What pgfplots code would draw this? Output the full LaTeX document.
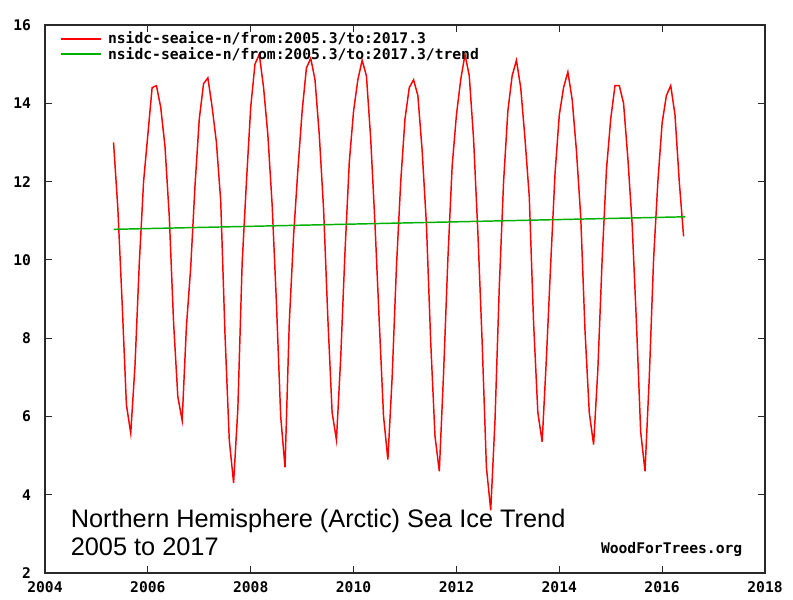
\documentclass[border=0pt]{standalone}
\usepackage{fontspec}
\setmainfont{Liberation Sans}
\setmonofont{DejaVu Sans Mono}
\usepackage{pgfplots}
\pgfplotsset{compat=1.18}
\definecolor{icered}{RGB}{255,0,0}
\definecolor{trendgreen}{RGB}{0,176,0}
\definecolor{framegray}{RGB}{40,40,40}
\newcommand{\wftfont}{\fontsize{11}{13}\selectfont\ttfamily\bfseries}

\begin{document}
\begin{tikzpicture}
\begin{axis}[
  name=ax,
  width=540pt, height=411pt, scale only axis,
  xmin=2004, xmax=2018, ymin=2, ymax=16,
  xtick={2004,2006,2008,2010,2012,2014,2016,2018},
  ytick={2,4,6,8,10,12,14,16},
  /pgf/number format/assume math mode=true,
  /pgf/number format/1000 sep={},
  ticklabel style={font=\wftfont},
  yticklabel shift=7pt,
  xticklabel shift=3pt,
  axis line style={framegray, line width=1.1pt},
  tick style={framegray, line width=0.8pt},
  major tick length=5pt,
  tick align=inside,
  legend style={at={(rel axis cs:0,1)}, anchor=north west, xshift=10pt, yshift=-2pt,
    draw=none, fill=none, font=\wftfont, inner sep=1pt, row sep=-3pt},
  legend cell align=left,
  legend image code/.code={\draw[#1] (0pt,0pt) -- (30pt,0pt); \path (33pt,0pt);},
]
\addplot[icered, line width=1.1pt] coordinates {
(2005.333,13.0)(2005.417,11.3)(2005.500,8.9)(2005.583,6.3)(2005.667,5.57)(2005.750,7.3)(2005.833,9.9)(2005.917,12.0)
(2006.000,13.2)(2006.083,14.4)(2006.167,14.45)(2006.250,13.9)(2006.333,12.9)(2006.417,11.1)(2006.500,8.4)(2006.583,6.5)(2006.667,5.9)(2006.750,8.3)(2006.833,9.8)(2006.917,11.9)
(2007.000,13.6)(2007.083,14.5)(2007.167,14.65)(2007.250,13.9)(2007.333,13.0)(2007.417,11.5)(2007.500,8.1)(2007.583,5.4)(2007.667,4.3)(2007.750,6.2)(2007.833,9.9)(2007.917,12.0)
(2008.000,13.9)(2008.083,15.0)(2008.167,15.25)(2008.250,14.4)(2008.333,13.2)(2008.417,11.4)(2008.500,8.9)(2008.583,6.0)(2008.667,4.7)(2008.750,8.4)(2008.833,10.6)(2008.917,12.3)
(2009.000,13.8)(2009.083,14.9)(2009.167,15.15)(2009.250,14.6)(2009.333,13.2)(2009.417,11.3)(2009.500,8.5)(2009.583,6.1)(2009.667,5.4)(2009.750,7.5)(2009.833,10.2)(2009.917,12.5)
(2010.000,13.8)(2010.083,14.6)(2010.167,15.1)(2010.250,14.7)(2010.333,13.1)(2010.417,10.9)(2010.500,8.4)(2010.583,6.0)(2010.667,4.9)(2010.750,7.0)(2010.833,9.8)(2010.917,12.0)
(2011.000,13.6)(2011.083,14.4)(2011.167,14.6)(2011.250,14.2)(2011.333,12.8)(2011.417,10.9)(2011.500,7.9)(2011.583,5.5)(2011.667,4.6)(2011.750,7.1)(2011.833,10.0)(2011.917,12.4)
(2012.000,13.7)(2012.083,14.6)(2012.167,15.25)(2012.250,14.7)(2012.333,13.1)(2012.417,10.7)(2012.500,7.9)(2012.583,4.7)(2012.667,3.6)(2012.750,5.9)(2012.833,9.3)(2012.917,12.0)
(2013.000,13.8)(2013.083,14.7)(2013.167,15.1)(2013.250,14.4)(2013.333,13.1)(2013.417,11.6)(2013.500,8.4)(2013.583,6.1)(2013.667,5.35)(2013.750,7.5)(2013.833,9.9)(2013.917,12.2)
(2014.000,13.7)(2014.083,14.4)(2014.167,14.8)(2014.250,14.1)(2014.333,12.8)(2014.417,11.1)(2014.500,8.2)(2014.583,6.1)(2014.667,5.28)(2014.750,7.2)(2014.833,10.0)(2014.917,12.3)
(2015.000,13.6)(2015.083,14.45)(2015.167,14.45)(2015.250,14.0)(2015.333,12.6)(2015.417,10.9)(2015.500,8.4)(2015.583,5.6)(2015.667,4.6)(2015.750,7.0)(2015.833,10.0)(2015.917,12.0)
(2016.000,13.5)(2016.083,14.2)(2016.167,14.45)(2016.250,13.7)(2016.333,12.0)(2016.417,10.6)
};
\addlegendentry{nsidc-seaice-n/from:2005.3/to:2017.3}
\addplot[trendgreen, line width=1.1pt] coordinates {(2005.333,10.78)(2016.45,11.10)};
\addlegendentry{nsidc-seaice-n/from:2005.3/to:2017.3/trend}

\node[anchor=base west, font=\fontsize{19}{21}\selectfont] at (axis cs:2004.41,3.15) {Northern Hemisphere (Arctic) Sea Ice Trend};
\node[anchor=base west, font=\fontsize{19}{21}\selectfont] at (axis cs:2004.41,2.45) {2005 to 2017};
\node[anchor=base east, font=\wftfont] at (axis cs:2017.65,2.49) {WoodForTrees.org};
\end{axis}
\pgfresetboundingbox
\path ([shift={(-33.75pt,-20.25pt)}]ax.south west) rectangle ([shift={(21pt,18.75pt)}]ax.north east);
\end{tikzpicture}
\end{document}
